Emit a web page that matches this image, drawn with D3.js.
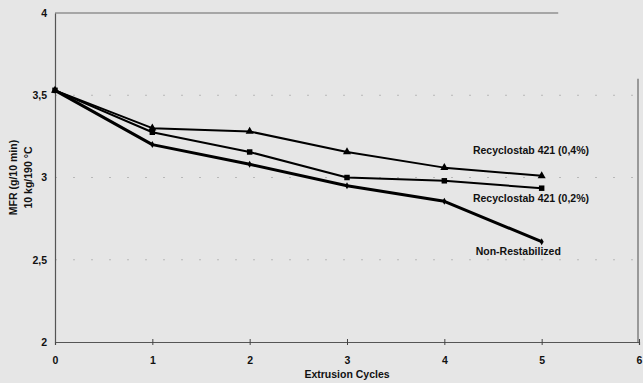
<!DOCTYPE html>
<html>
<head>
<meta charset="utf-8">
<script src="https://cdn.jsdelivr.net/npm/d3@7"></script>
<style>
  html, body { margin: 0; padding: 0; background: #e6e6e6; }
  svg { display: block; font-family: "Liberation Sans", Arial, sans-serif; }
</style>
</head>
<body>
<div id="chart"></div>
<script>
// data
const cycles = [0, 1, 2, 3, 4, 5];
const nonRestab = [3.53, 3.20, 3.08, 2.95, 2.855, 2.61];
const stab02 = [3.53, 3.275, 3.155, 3.00, 2.98, 2.935];
const stab04 = [3.53, 3.30, 3.28, 3.155, 3.06, 3.01];
const xTicks = [0, 1, 2, 3, 4, 5, 6];
const yTicks = [2, 2.5, 3, 3.5, 4];

const width = 643, height = 383;
const margin = { top: 13, right: 4, bottom: 41, left: 55 };

const svg = d3.select('#chart').append('svg')
  .attr('width', width)
  .attr('height', height);

const x = d3.scaleLinear().domain([0, 6]).range([margin.left, width - margin.right]);
const y = d3.scaleLinear().domain([2, 4]).range([height - margin.bottom, margin.top]);

const fmt = d => String(d).replace('.', ',');

// faint dotted gridlines (scanned look)
svg.append('g')
  .selectAll('line')
  .data([2.5, 3, 3.5])
  .join('line')
  .attr('x1', x(0)).attr('x2', x(6))
  .attr('y1', d => y(d)).attr('y2', d => y(d))
  .attr('stroke', '#b8b8b8')
  .attr('stroke-width', 1)
  .attr('stroke-dasharray', '2,16');

// top border and right border
svg.append('line')
  .attr('x1', x(0)).attr('x2', x(5.17))
  .attr('y1', y(4)).attr('y2', y(4))
  .attr('stroke', '#666').attr('stroke-width', 1.2);
svg.append('line')
  .attr('x1', x(6) - 1).attr('x2', x(6) - 1)
  .attr('y1', y(3.6)).attr('y2', y(2))
  .attr('stroke', '#666').attr('stroke-width', 1.2);

// axes
const xAxis = svg.append('g')
  .attr('transform', `translate(0,${y(2)})`)
  .call(d3.axisBottom(x).tickValues(xTicks).tickSize(3).tickFormat(d3.format('d')));
xAxis.select('.domain').attr('stroke', '#555').attr('stroke-width', 1.2);
xAxis.selectAll('.tick line').attr('stroke', '#444').attr('transform', 'translate(0,-3)').attr('y2', 6);
xAxis.selectAll('.tick text')
  .attr('dy', '1.5em')
  .attr('font-size', 10.5).attr('font-weight', 'bold')
  .attr('font-family', '"Liberation Sans", Arial, sans-serif').attr('fill', '#111');

const yAxis = svg.append('g')
  .attr('transform', `translate(${x(0)},0)`)
  .call(d3.axisLeft(y).tickValues(yTicks).tickSize(0).tickPadding(8).tickFormat(fmt));
yAxis.select('.domain').attr('stroke', '#555').attr('stroke-width', 1.2);
yAxis.selectAll('.tick text')
  .attr('font-size', 10.5).attr('font-weight', 'bold')
  .attr('font-family', '"Liberation Sans", Arial, sans-serif').attr('fill', '#111');

// axis titles
svg.append('text')
  .attr('x', x(3)).attr('y', 378)
  .attr('text-anchor', 'middle')
  .attr('font-size', 10.5).attr('font-weight', 'bold').attr('fill', '#111')
  .text('Extrusion Cycles');

const yt = svg.append('g').attr('transform', `translate(0,${y(3)}) rotate(-90)`);
yt.append('text').attr('x', 0).attr('y', 17)
  .attr('text-anchor', 'middle').attr('font-size', 10.5).attr('font-weight', 'bold').attr('fill', '#111')
  .text('MFR (g/10 min)');
yt.append('text').attr('x', 0).attr('y', 32)
  .attr('text-anchor', 'middle').attr('font-size', 10.5).attr('font-weight', 'bold').attr('fill', '#111')
  .text('10 kg/190 °C');

// series
const series = [
  { name: 'Recyclostab 421 (0,4%)', values: stab04, width: 2, symbol: d3.symbolTriangle, size: 28, lx: 4.89, ly: 3.14 },
  { name: 'Recyclostab 421 (0,2%)', values: stab02, width: 2, symbol: d3.symbolSquare, size: 30, lx: 4.89, ly: 2.852 },
  { name: 'Non-Restabilized', values: nonRestab, width: 3, symbol: d3.symbolDiamond, size: 14, lx: 4.76, ly: 2.53 }
];

const line = d3.line()
  .x((d, i) => x(cycles[i]))
  .y(d => y(d));

series.forEach(s => {
  svg.append('path')
    .attr('d', line(s.values))
    .attr('fill', 'none')
    .attr('stroke', '#000')
    .attr('stroke-width', s.width)
    .attr('stroke-linejoin', 'round');

  svg.append('g')
    .selectAll('path')
    .data(s.values)
    .join('path')
    .attr('transform', (d, i) => `translate(${x(cycles[i])},${y(d)})`)
    .attr('d', d3.symbol().type(s.symbol).size(s.size))
    .attr('fill', '#000');

  svg.append('text')
    .attr('x', x(s.lx)).attr('y', y(s.ly))
    .attr('text-anchor', 'middle')
    .attr('font-size', 10.5).attr('font-weight', 'bold').attr('fill', '#111')
    .text(s.name);
});
</script>
</body>
</html>
